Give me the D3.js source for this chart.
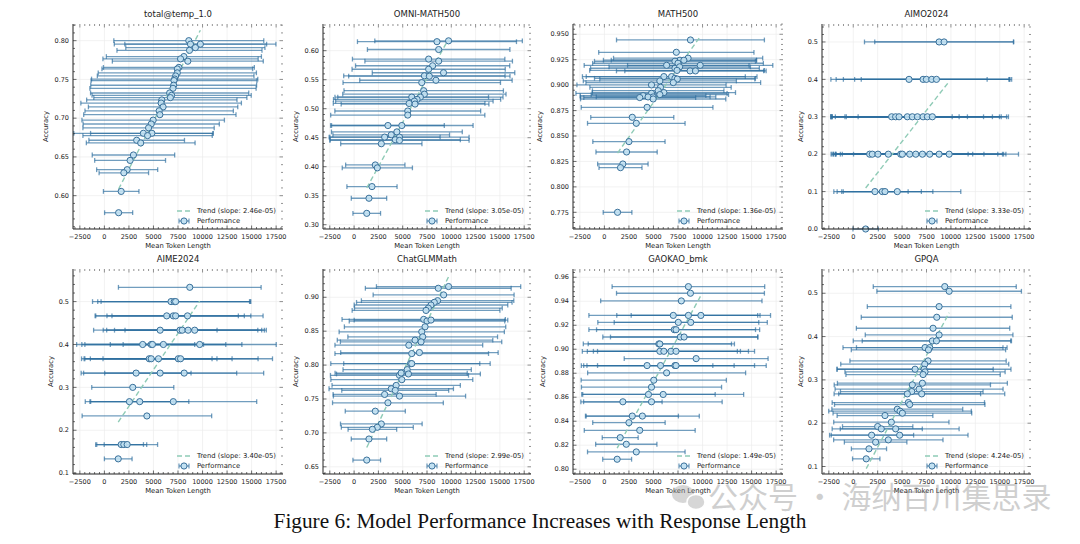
<!DOCTYPE html>
<html><head><meta charset="utf-8">
<script src="https://cdn.jsdelivr.net/npm/d3@7"></script>
<style>html,body{margin:0;padding:0;background:#fff;}svg{display:block;}</style>
</head><body>
<svg id="chart" width="1080" height="544"></svg>
<script>
// ---- data: [mean token length, accuracy, std of token length] ----
const totalTemp = [
 [8600,0.800,7640],[8770,0.7955,7760],[9780,0.7955,7700],[9270,0.791,7090],[8670,0.7875,7390],
 [8100,0.7795,7900],[7760,0.7765,7910],[8500,0.7735,7690],[7590,0.7655,7690],[7430,0.7635,7680],
 [7430,0.7585,8060],[7260,0.7545,7980],[7160,0.7505,8470],[7090,0.7485,8450],[7060,0.7425,8450],
 [6990,0.7385,8470],[6650,0.7325,8060],[6850,0.7295,8110],[6720,0.7265,7800],[5850,0.7235,7660],
 [5780,0.7195,8180],[5980,0.7145,7610],[5580,0.7095,7560],[5650,0.7045,7760],[4970,0.6975,7260],
 [4770,0.6925,6940],[4500,0.6875,6690],[3970,0.6805,7090],[4840,0.6805,6250],[4400,0.6775,6590],
 [3290,0.6715,4870],[3700,0.668,5540],[2960,0.6525,4200],[2620,0.6455,3610],[2320,0.6335,3110],
 [1980,0.6295,2520],[1710,0.6055,1810],[1450,0.578,1430]
];
const omniMath = [
 [8525,0.6155,8180],[9720,0.617,7590],[8700,0.602,7330],[7670,0.5855,7840],[8700,0.582,7590],
 [8080,0.574,7930],[7670,0.568,7880],[9200,0.562,7330],[7230,0.5567,8300],[7740,0.556,8300],
 [8420,0.549,7840],[6960,0.545,8100],[7160,0.531,8200],[7230,0.525,8400],[6820,0.520,8500],
 [5930,0.520,7900],[6480,0.516,8600],[6200,0.513,8100],[5660,0.509,7800],[6270,0.508,7600],
 [5520,0.496,7500],[5520,0.489,7930],[3480,0.471,5800],[4910,0.471,7330],[4400,0.460,6730],
 [3820,0.455,6000],[3140,0.451,5710],[4670,0.451,7160],[4230,0.4465,6700],[4670,0.4453,7160],
 [2800,0.4396,4180],[2180,0.403,3050],[2390,0.398,3610],[1840,0.3657,2580],[1530,0.3456,1820],
 [1300,0.3196,1420]
];
const math500 = [
 [8770,0.9444,7535],[7330,0.9323,7910],[8530,0.9265,7600],[7700,0.9245,7800],[8100,0.9245,7400],
 [7190,0.9235,8200],[9760,0.9195,7400],[6340,0.9195,8400],[7500,0.9215,8700],[7190,0.9166,8600],
 [7670,0.918,7200],[8730,0.914,7500],[9280,0.914,7200],[7400,0.9145,8900],
 [6060,0.9084,8300],[6850,0.9084,8700],[7190,0.9067,8200],[7430,0.906,7900],[5650,0.9041,7800],
 [7020,0.9025,8900],[4800,0.9002,7600],[5720,0.8979,7200],
 [5480,0.8946,6700],[6060,0.8927,7300],[4800,0.892,7700],[5650,0.8907,7000],[3940,0.8897,6400],
 [4970,0.8884,5800],[3600,0.8878,5700],[4450,0.8884,6900],[4970,0.8864,7400],
 [4350,0.8782,6710],[2840,0.8684,4230],[3250,0.8625,4970],[2500,0.8445,3680],[2260,0.8343,3120],
 [1880,0.8225,2570],[1640,0.8189,2190],[1340,0.775,1460]
];
const aimo2024 = [
 [8790,0.5,7640],[9300,0.5,7100],
 [5710,0.4,8000],[7150,0.4,8900],[7490,0.4,8500],[8040,0.4,7900],[8520,0.4,7700],
 [3930,0.3,6200],[4340,0.3,6500],[4690,0.3,7000],[5540,0.3,7800],[6050,0.3,8200],[6570,0.3,8400],
 [7150,0.3,8000],[7590,0.3,8300],[8100,0.3,7600],
 [1680,0.2,3000],[1950,0.2,3700],[2530,0.2,4800],[3590,0.2,5400],[4860,0.2,6900],[5030,0.2,7200],
 [5780,0.2,7600],[6400,0.2,8400],[7080,0.2,8200],[7830,0.2,7800],[8790,0.2,6600],[9820,0.2,7100],
 [2220,0.1,3400],[2975,0.1,4000],[3250,0.1,4900],[4510,0.1,6500],
 [1270,0.0,1300]
];
const aime2024 = [
 [8700,0.5333,7270],
 [6790,0.5,8000],[7120,0.5,7800],[7260,0.5,7600],
 [6350,0.4667,7300],[7020,0.4667,7900],[7260,0.4667,7000],[8470,0.4667,7700],
 [5680,0.4333,5800],[7700,0.4333,8800],[7930,0.4333,7700],[8530,0.4333,7500],[9200,0.4333,7100],
 [3900,0.4,6200],[4770,0.4,7600],[4900,0.4,4300],[6010,0.4,8000],[9710,0.4,7800],
 [4570,0.3667,6900],[4770,0.3667,6200],[5510,0.3667,7500],[7530,0.3667,9600],[7760,0.3667,7900],
 [3230,0.3333,5600],[5680,0.3333,7800],[8130,0.3333,8100],
 [2890,0.3,4180],
 [2550,0.2667,4500],[3600,0.2667,5000],[7020,0.2667,8500],
 [4330,0.2333,6600],
 [1710,0.1667,2600],[1980,0.1667,2000],[2320,0.1667,3100],
 [1410,0.1333,1410]
];
const chatglmMath = [
 [9720,0.9158,7420],[8660,0.9133,7500],[9210,0.9035,7250],[8590,0.895,7840],[8250,0.8925,8000],
 [7910,0.8886,7900],[7640,0.884,7600],[7400,0.8806,7600],[7160,0.8674,8400],[7500,0.8650,8000],
 [7910,0.8664,7900],[7300,0.8565,8300],[6960,0.8491,8500],[7060,0.8417,7700],[6270,0.8368,8000],
 [6890,0.8343,8300],[5630,0.8293,7600],[5930,0.817,7900],[6720,0.8185,8100],[5800,0.8022,8200],
 [5930,0.8022,7000],[5460,0.7933,6600],[4670,0.7849,7100],[5590,0.7869,7400],[4840,0.7883,6800],
 [4910,0.7785,7300],[4330,0.770,6600],[3820,0.7651,6400],[4230,0.7627,5500],[3140,0.7567,5300],
 [4670,0.7543,6800],[3480,0.7444,5700],[2180,0.732,3090],[2800,0.7132,4200],[2390,0.7083,3700],
 [1880,0.7053,2500],[1530,0.691,1820],[1300,0.6599,1420]
];
const gaokaoBmk = [
 [8560,0.9522,7775],[8770,0.9467,7535],[7840,0.9403,8220],
 [7020,0.9282,8600],[8560,0.9282,7300],[9830,0.9282,7100],
 [7530,0.9224,8200],[8800,0.9224,7800],[7120,0.9163,8700],[7300,0.9163,8100],
 [7740,0.9102,7900],[8120,0.9102,7500],[5550,0.9044,7700],[5650,0.9044,7300],
 [5650,0.8983,7900],[6060,0.8983,7800],[6780,0.8983,7900],[7300,0.8983,8000],
 [9350,0.8922,7330],
 [4350,0.8864,6700],[5720,0.8864,7500],[7190,0.8864,9300],[7300,0.8864,8000],
 [6340,0.8803,8050],[5030,0.8742,7400],[4800,0.8684,7140],[4490,0.8623,6800],[5990,0.8623,8200],
 [1880,0.8562,4000],[4800,0.8562,7200],[2840,0.8443,4700],[3870,0.8443,5800],[2500,0.8388,3690],
 [3600,0.8324,5650],[1610,0.8263,1830],[2230,0.8208,3120],[3250,0.8144,4970],[1300,0.8083,1470]
];
const gpqa = [
 [9370,0.5154,7320],[9820,0.5046,7400],[8790,0.4692,7350],[8550,0.4446,7730],[8170,0.4192,7850],
 [8790,0.4038,7560],[8100,0.39,8100],[8520,0.39,7600],[7350,0.3746,8400],[7830,0.3746,7500],
 [7700,0.3692,7900],[7660,0.3438,8000],[7320,0.3362,8600],[6330,0.3246,8000],[7250,0.3246,8900],
 [7350,0.3185,8200],[7150,0.3123,7900],[7080,0.2923,8700],[6050,0.2885,8000],[6740,0.2785,8600],
 [5990,0.2731,7300],[7010,0.2677,8500],[5540,0.2677,7500],[5640,0.2477,7800],[5780,0.2431,7700],
 [4510,0.2323,6700],[4790,0.2277,7300],[5030,0.2231,7100],[3250,0.2177,4900],[3900,0.2023,5900],
 [2500,0.1923,3600],[2870,0.1869,4200],[4340,0.1869,6500],[1880,0.1723,4300],[4750,0.1723,7000],
 [3590,0.1615,5600],[2290,0.1562,3200],[1610,0.1408,1800],[1330,0.1177,1400]
];

const panelTitles = ["total@temp_1.0","OMNI-MATH500","MATH500","AIMO2024","AIME2024","ChatGLMMath","GAOKAO_bmk","GPQA"];
const panelData = [totalTemp, omniMath, math500, aimo2024, aime2024, chatglmMath, gaokaoBmk, gpqa];
const trendSlopes = [2.46e-05, 3.05e-05, 1.36e-05, 3.33e-05, 3.40e-05, 2.99e-05, 1.49e-05, 4.24e-05];
const xTicks = [-2500,0,2500,5000,7500,10000,12500,15000,17500];
const yTicks = [
 [0.60,0.65,0.70,0.75,0.80],
 [0.30,0.35,0.40,0.45,0.50,0.55,0.60],
 [0.775,0.800,0.825,0.850,0.875,0.900,0.925,0.950],
 [0.0,0.1,0.2,0.3,0.4,0.5],
 [0.1,0.2,0.3,0.4,0.5],
 [0.65,0.70,0.75,0.80,0.85,0.90],
 [0.80,0.82,0.84,0.86,0.88,0.90,0.92,0.94,0.96],
 [0.1,0.2,0.3,0.4,0.5]
];
const yFormats = [".2f",".2f",".3f",".1f",".1f",".2f",".2f",".1f"];
const yDomains = [[0.557,0.8215],[0.2926,0.646],[0.7586,0.9601],[0.0,0.548],[0.098,0.576],[0.6394,0.9417],[0.796,0.9669],[0.0827,0.556]];
const yMinorStep = [0.01,0.01,0.005,0.02,0.02,0.01,0.004,0.02];
const xDomain = [-3200, 18200];
const captionText = "Figure 6: Model Performance Increases with Response Length";
const watermarkText = "公众号 · 海纳百川集思录";

// ---- layout ----
const colX = [[73,283],[323,531],[573,783],[822,1031]];
const rowY = [[24,229],[269,474]];
const ylabOffset = [25,25,31,19,20,25,28,19];

const svg = d3.select("#chart");
const FONT = "DejaVu Sans, sans-serif";
const barColor = "#2e6e9f";
const markFill = "#c2e1f2";
const markStroke = "#39709a";
const trendColor = "#8fcbb6";

panelData.forEach((data, i) => {
  const [L, R] = colX[i % 4];
  const [T, B] = rowY[Math.floor(i / 4)];
  const x = d3.scaleLinear().domain(xDomain).range([L, R]);
  const y = d3.scaleLinear().domain(yDomains[i]).range([B, T]);
  const g = svg.append("g");

  // grid
  g.selectAll(".gx").data(xTicks).join("line")
    .attr("x1", d => x(d)).attr("x2", d => x(d)).attr("y1", T).attr("y2", B)
    .attr("stroke", "#ececec").attr("stroke-width", 0.7);
  g.selectAll(".gy").data(yTicks[i]).join("line")
    .attr("y1", d => y(d)).attr("y2", d => y(d)).attr("x1", L).attr("x2", R)
    .attr("stroke", "#ececec").attr("stroke-width", 0.7);

  // trend
  const mx = d3.mean(data, d => d[0]), my = d3.mean(data, d => d[1]);
  const s = trendSlopes[i];
  const x0 = d3.min(data, d => d[0]), x1 = d3.max(data, d => d[0]);
  const ty = v => my + s * (v - mx);

  // error bars
  const eb = g.append("g").attr("stroke", barColor).attr("stroke-opacity", 0.68).attr("stroke-width", 1.3).attr("fill", "none");
  data.forEach(d => {
    const lo = d[0] - d[2], hi = d[0] + d[2], yy = y(d[1]);
    eb.append("line").attr("x1", x(lo)).attr("x2", x(hi)).attr("y1", yy).attr("y2", yy);
    eb.append("line").attr("x1", x(lo)).attr("x2", x(lo)).attr("y1", yy - 2.4).attr("y2", yy + 2.4);
    eb.append("line").attr("x1", x(hi)).attr("x2", x(hi)).attr("y1", yy - 2.4).attr("y2", yy + 2.4);
  });

  g.append("line").attr("x1", x(x0)).attr("x2", x(x1)).attr("y1", y(ty(x0))).attr("y2", y(ty(x1)))
    .attr("stroke", trendColor).attr("stroke-width", 1.4).attr("stroke-dasharray", "5,3");

  g.selectAll("circle.pt").data(data).join("circle")
    .attr("cx", d => x(d[0])).attr("cy", d => y(d[1])).attr("r", 3.1)
    .attr("fill", markFill).attr("fill-opacity", 0.9).attr("stroke", markStroke).attr("stroke-width", 1);

  // ticks: x (bottom and top), minor every 500
  const xMinor = d3.range(-3000, 18001, 500).filter(v => v >= xDomain[0] && v <= xDomain[1]);
  const tk = g.append("g").attr("stroke", "#333").attr("stroke-width", 0.7);
  xMinor.forEach(v => {
    const major = xTicks.includes(v);
    const len = major ? 3.5 : 2;
    tk.append("line").attr("x1", x(v)).attr("x2", x(v)).attr("y1", B).attr("y2", B - len);
    tk.append("line").attr("x1", x(v)).attr("x2", x(v)).attr("y1", T).attr("y2", T + len).attr("stroke", "#666");
  });
  const [yd0, yd1] = yDomains[i];
  const st = yMinorStep[i];
  const yMinor = d3.range(Math.ceil(yd0 / st - 1e-6), Math.floor(yd1 / st + 1e-6) + 1).map(k => k * st);
  yMinor.forEach(v => {
    const major = yTicks[i].some(t => Math.abs(t - v) < st / 10);
    const len = major ? 3.5 : 2;
    tk.append("line").attr("x1", L).attr("x2", L + len).attr("y1", y(v)).attr("y2", y(v));
    tk.append("line").attr("x1", R).attr("x2", R - len).attr("y1", y(v)).attr("y2", y(v)).attr("stroke", "#666");
  });

  // spines (left and bottom solid)
  g.append("line").attr("x1", L).attr("x2", L).attr("y1", T).attr("y2", B).attr("stroke", "#222").attr("stroke-width", 1);
  g.append("line").attr("x1", L).attr("x2", R).attr("y1", B).attr("y2", B).attr("stroke", "#222").attr("stroke-width", 1);

  // tick labels
  g.selectAll(".xl").data(xTicks).join("text")
    .attr("x", d => x(d)).attr("y", B + 9.5).attr("text-anchor", "middle")
    .attr("font-family", FONT).attr("font-size", 6.5).attr("fill", "#222")
    .text(d => d < 0 ? "\u2212" + Math.abs(d) : d);
  const yf = d3.format(yFormats[i]);
  g.selectAll(".yl").data(yTicks[i]).join("text")
    .attr("x", L - 4).attr("y", d => y(d)).attr("dy", "0.34em").attr("text-anchor", "end")
    .attr("font-family", FONT).attr("font-size", 6.5).attr("fill", "#222")
    .text(d => yf(d));

  // axis labels & title
  g.append("text").attr("x", (L + R) / 2).attr("y", B + 18.5).attr("text-anchor", "middle")
    .attr("font-family", FONT).attr("font-size", 6.8).attr("fill", "#222").text("Mean Token Length");
  g.append("text").attr("transform", `translate(${L - ylabOffset[i]},${(T + B) / 2}) rotate(-90)`)
    .attr("text-anchor", "middle").attr("font-family", FONT).attr("font-size", 6.8).attr("fill", "#222").text("Accuracy");
  g.append("text").attr("x", (L + R) / 2).attr("y", T - 7).attr("text-anchor", "middle")
    .attr("font-family", FONT).attr("font-size", 8.5).attr("fill", "#222").text(panelTitles[i]);

  // legend
  const ly1 = B - 18, ly2 = B - 8;
  g.append("line").attr("x1", R - 106).attr("x2", R - 92).attr("y1", ly1).attr("y2", ly1)
    .attr("stroke", trendColor).attr("stroke-width", 1.4).attr("stroke-dasharray", "5,3");
  g.append("text").attr("x", R - 86).attr("y", ly1).attr("dy", "0.34em")
    .attr("font-family", FONT).attr("font-size", 6.8).attr("fill", "#222")
    .text(`Trend (slope: ${s.toExponential(2).replace("e-5", "e-05")})`);
  const lg = g.append("g").attr("stroke", barColor).attr("stroke-opacity", 0.7).attr("stroke-width", 1.2);
  lg.append("line").attr("x1", R - 104).attr("x2", R - 94).attr("y1", ly2).attr("y2", ly2);
  lg.append("line").attr("x1", R - 104).attr("x2", R - 104).attr("y1", ly2 - 2.4).attr("y2", ly2 + 2.4);
  lg.append("line").attr("x1", R - 94).attr("x2", R - 94).attr("y1", ly2 - 2.4).attr("y2", ly2 + 2.4);
  g.append("circle").attr("cx", R - 99).attr("cy", ly2).attr("r", 3.1)
    .attr("fill", markFill).attr("stroke", markStroke).attr("stroke-width", 1);
  g.append("text").attr("x", R - 86).attr("y", ly2).attr("dy", "0.34em")
    .attr("font-family", FONT).attr("font-size", 6.8).attr("fill", "#222").text("Performance");
});

// watermark
const wm = svg.append("g").attr("opacity", 0.4);
wm.append("ellipse").attr("cx", 683).attr("cy", 494).attr("rx", 11).attr("ry", 9).attr("fill", "#9a9a9a");
wm.append("ellipse").attr("cx", 696).attr("cy", 502).attr("rx", 9).attr("ry", 7.5).attr("fill", "#9a9a9a").attr("stroke", "#fff").attr("stroke-width", 1.5);
wm.append("text").attr("x", 708).attr("y", 508).attr("font-family", "Noto Sans CJK SC, sans-serif")
  .attr("font-size", 30).attr("fill", "#8a8a8a").text(watermarkText);

// caption
svg.append("text").attr("x", 540).attr("y", 528).attr("text-anchor", "middle")
  .attr("font-family", "Liberation Serif, Times New Roman, serif").attr("font-size", 21.3).attr("fill", "#111")
  .text(captionText);
</script>
</body></html>
